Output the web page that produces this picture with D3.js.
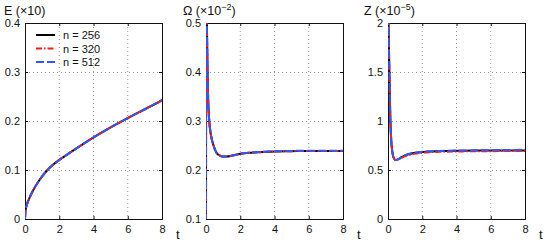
<!DOCTYPE html>
<html><head><meta charset="utf-8">
<script src="https://cdn.jsdelivr.net/npm/d3@7"></script>
<style>
body{margin:0;background:#fff;}
text{font-family:"Liberation Sans",Arial,sans-serif;fill:#111;}
</style></head>
<body><svg id="c" width="550" height="245"></svg>
<script>
// ---- data ----
const seriesNames = ["n = 256", "n = 320", "n = 512"];
const xTicks = [0, 2, 4, 6, 8];

const tE = [0, 0.02, 0.05, 0.1, 0.2, 0.3, 0.5, 0.75, 1, 1.3, 1.6, 2, 2.5, 3, 4, 5, 6, 7, 8];
const E256 = [0, 0.013, 0.021, 0.028, 0.038, 0.046, 0.060, 0.0745, 0.087, 0.0995, 0.1095, 0.1205, 0.1325, 0.144, 0.1665, 0.187, 0.206, 0.224, 0.242];
const E320 = [0, 0.013, 0.021, 0.028, 0.038, 0.046, 0.060, 0.0745, 0.087, 0.0995, 0.1095, 0.1205, 0.1325, 0.144, 0.1665, 0.187, 0.206, 0.224, 0.242];
const E512 = [0, 0.013, 0.021, 0.028, 0.038, 0.046, 0.060, 0.0745, 0.087, 0.0995, 0.1095, 0.1205, 0.1325, 0.144, 0.1665, 0.187, 0.206, 0.224, 0.243];
const eTicks = [0, 0.1, 0.2, 0.3, 0.4];

const tW = [0, 0.01, 0.03, 0.06, 0.09, 0.13, 0.19, 0.27, 0.35, 0.45, 0.53, 0.62, 0.75, 0.9, 1.0, 1.2, 1.5, 2, 2.5, 3, 4, 5, 6, 7, 8];
const W256 = [0.05, 0.62, 0.58, 0.48, 0.40, 0.34, 0.30, 0.275, 0.261, 0.249, 0.241, 0.235, 0.2305, 0.228, 0.2275, 0.2275, 0.229, 0.233, 0.235, 0.236, 0.238, 0.2385, 0.239, 0.239, 0.239];
const W320 = [0.05, 0.62, 0.58, 0.48, 0.40, 0.34, 0.30, 0.275, 0.261, 0.249, 0.241, 0.235, 0.2305, 0.228, 0.2275, 0.2275, 0.229, 0.233, 0.235, 0.236, 0.238, 0.2385, 0.239, 0.239, 0.239];
const W512 = [0.05, 0.62, 0.58, 0.48, 0.40, 0.34, 0.30, 0.275, 0.261, 0.249, 0.241, 0.235, 0.2305, 0.228, 0.2275, 0.2275, 0.229, 0.233, 0.235, 0.2365, 0.2385, 0.239, 0.2395, 0.2395, 0.2395];
const wTicks = [0.1, 0.2, 0.3, 0.4, 0.5];

const tZ = [0, 0.03, 0.08, 0.14, 0.19, 0.25, 0.32, 0.45, 0.55, 0.7, 0.85, 1, 1.3, 1.6, 2, 2.5, 3, 4, 5, 6, 7, 8];
const Z256 = [2.4, 2.0, 1.5, 1.0, 0.80, 0.69, 0.63, 0.602, 0.606, 0.62, 0.637, 0.65, 0.665, 0.675, 0.684, 0.69, 0.693, 0.697, 0.698, 0.699, 0.700, 0.700];
const Z320 = [2.4, 2.0, 1.5, 1.0, 0.80, 0.69, 0.63, 0.600, 0.603, 0.615, 0.630, 0.642, 0.656, 0.667, 0.676, 0.682, 0.685, 0.689, 0.691, 0.692, 0.694, 0.695];
const Z512 = [2.4, 2.0, 1.5, 1.0, 0.80, 0.69, 0.63, 0.602, 0.607, 0.622, 0.640, 0.652, 0.667, 0.677, 0.686, 0.691, 0.694, 0.698, 0.700, 0.702, 0.704, 0.706];
const zTicks = [0, 0.5, 1, 1.5, 2];
const zTickLabels = ["0", "0.5", "1", "1.5", "2"];

// ---- drawing ----
const svg = d3.select("#c");
const styles = [
  {color: "#000000", dash: null},
  {color: "#ff1a1a", dash: "6,2,1.5,2"},
  {color: "#3355ff", dash: "8,3"}
];

const panels = [
  {x0: 25, x1: 162, t: tE, ys: [E256, E320, E512], dom: [0, 0.4], ticks: eTicks, labels: eTicks.map(d => d === 0 ? "0" : d3.format(".1f")(d)), title: ["E (×10)", null], tx: 4, legend: true, curve: d3.curveMonotoneX},
  {x0: 206, x1: 343, t: tW, ys: [W256, W320, W512], dom: [0.1, 0.5], ticks: wTicks, labels: wTicks.map(d => d3.format(".1f")(d)), title: ["Ω (×10", "−2", ")"], tx: 183, curve: d3.curveMonotoneX},
  {x0: 388, x1: 525, t: tZ, ys: [Z256, Z320, Z512], dom: [0, 2], ticks: zTicks, labels: zTickLabels, title: ["Z (×10", "−5", ")"], tx: 364, curve: d3.curveMonotoneX}
];
const yTop = 23, yBot = 219;

panels.forEach((p, pi) => {
  const x = d3.scaleLinear().domain([0, 8]).range([p.x0, p.x1]);
  const y = d3.scaleLinear().domain(p.dom).range([yBot, yTop]);
  const g = svg.append("g");

  // grid
  g.selectAll(".gx").data(xTicks.slice(1, -1)).enter().append("line")
    .attr("x1", d => x(d)).attr("x2", d => x(d)).attr("y1", yTop).attr("y2", yBot)
    .attr("stroke", "#9a9a9a").attr("stroke-width", 1).attr("stroke-dasharray", "1,3");
  g.selectAll(".gy").data(p.ticks.slice(1, -1)).enter().append("line")
    .attr("y1", d => Math.round(y(d)) + 0.5).attr("y2", d => Math.round(y(d)) + 0.5).attr("x1", p.x0).attr("x2", p.x1)
    .attr("stroke", "#9a9a9a").attr("stroke-width", 1).attr("stroke-dasharray", "1,3");

  // axes (inward ticks)
  const ax = d3.axisBottom(x).tickValues(xTicks).tickSize(-3).tickPadding(6).tickFormat(d3.format("d"));
  g.append("g").attr("transform", `translate(0,${yBot})`).call(ax);
  g.append("g").attr("transform", `translate(${p.x0},0)`)
    .call(d3.axisLeft(y).tickValues(p.ticks).tickSize(-3).tickPadding(5).tickFormat((d, i) => p.labels[i]));
  g.append("g").attr("transform", `translate(${p.x1},0)`)
    .call(d3.axisRight(y).tickValues(p.ticks).tickSize(-3).tickFormat(""));
  g.append("g").attr("transform", `translate(0,${yTop})`)
    .call(d3.axisTop(x).tickValues(xTicks).tickSize(-3).tickFormat(""));
  g.selectAll(".domain").attr("stroke", "#111");
  g.selectAll(".tick line").attr("stroke", "#111");
  g.selectAll(".tick text").attr("font-size", "11px").attr("font-family", "Liberation Sans, Arial, sans-serif").attr("fill", "#111");

  // clip
  const cid = "clip" + pi;
  svg.append("clipPath").attr("id", cid).append("rect")
    .attr("x", p.x0).attr("y", yTop).attr("width", p.x1 - p.x0).attr("height", yBot - yTop);

  const line = d3.line().x(d => x(d[0])).y(d => y(d[1])).curve(p.curve);
  const lg = g.append("g").attr("clip-path", `url(#${cid})`);
  p.ys.forEach((vals, si) => {
    lg.append("path").datum(p.t.map((t, i) => [t, vals[i]]))
      .attr("d", line).attr("fill", "none")
      .attr("stroke", styles[si].color).attr("stroke-width", 2)
      .attr("stroke-dasharray", styles[si].dash);
  });

  // t label
  g.append("text").attr("x", p.x1 + 14).attr("y", 239).attr("font-size", "13px").text("t");

  // title
  const tt = g.append("text").attr("x", p.tx).attr("y", 15).attr("font-size", "12.5px");
  tt.append("tspan").text(p.title[0]);
  if (p.title[1]) {
    tt.append("tspan").attr("dy", -5).attr("font-size", "9px").text(p.title[1]);
    tt.append("tspan").attr("dy", 5).text(p.title[2]);
  }

  if (p.legend) {
    const ly = [35, 48.5, 62];
    seriesNames.forEach((n, si) => {
      g.append("line").attr("x1", 36).attr("x2", 55).attr("y1", ly[si]).attr("y2", ly[si])
        .attr("stroke", styles[si].color).attr("stroke-width", 2).attr("stroke-dasharray", styles[si].dash);
      g.append("text").attr("x", 63).attr("y", ly[si] + 4).attr("font-size", "11px").text(n);
    });
  }
});
</script></body></html>
